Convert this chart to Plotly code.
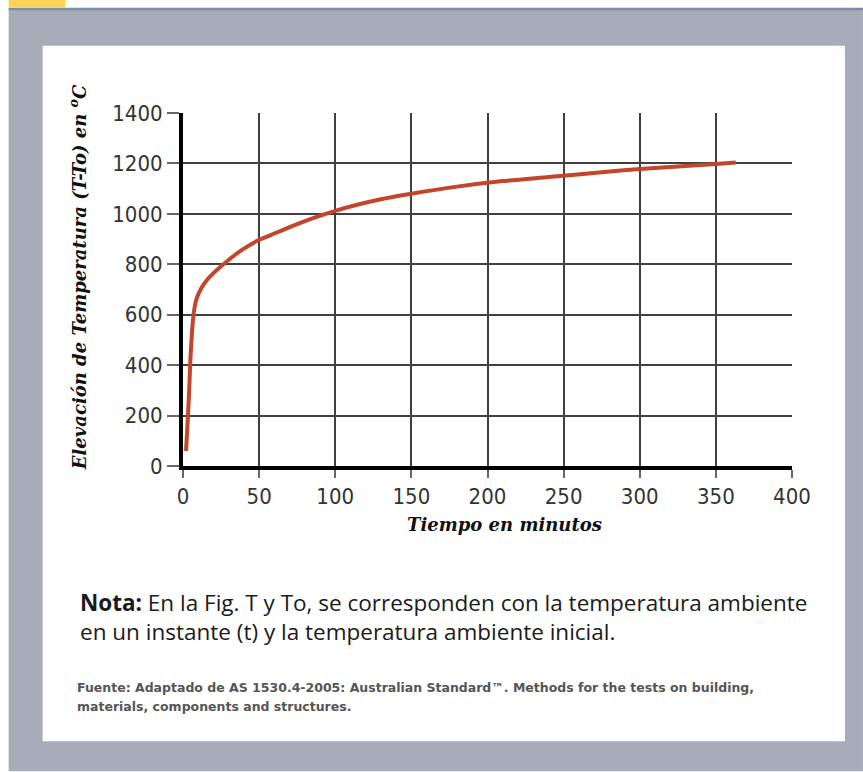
import plotly.graph_objects as go

# Data
tiempo_min = [2, 3, 4, 5, 7, 9, 12, 16, 20, 25, 33, 40, 50, 60, 70, 85, 100,
              115, 130, 150, 180, 210, 240, 275, 300, 330, 350, 363]
elevacion_c = [60, 170, 290, 440, 605, 665, 705, 740, 765, 792, 832, 862, 897,
               922, 947, 982, 1012, 1037, 1058, 1080, 1108, 1130, 1146, 1165,
               1178, 1190, 1198, 1204]
x_ticks = [0, 50, 100, 150, 200, 250, 300, 350, 400]
y_ticks = [0, 200, 400, 600, 800, 1000, 1200, 1400]

W, H = 863, 772
X0, X1 = 182.5, 792.0   # plot area pixel edges
Y0, Y1 = 466.5, 113.3


def px(x):
    return (x - X0) / (X1 - X0)


def py(y):
    return (Y0 - y) / (Y0 - Y1)


fig = go.Figure()
fig.add_trace(go.Scatter(
    x=tiempo_min, y=elevacion_c, mode="lines",
    line=dict(color="#c4442c", width=4, shape="spline", smoothing=0.6),
    hoverinfo="skip", showlegend=False,
))

shapes = []


def rect(x0, y0, x1, y1, color):
    shapes.append(dict(type="rect", xref="paper", yref="paper",
                       x0=px(x0), x1=px(x1), y0=py(y0), y1=py(y1),
                       fillcolor=color, line=dict(width=0), layer="below"))


rect(8, 10, W, H, "#a6adb8")
rect(8, 8, W, 10.5, "#7b8c9e")
rect(8, 0, 65, 8, "#fdd35c")
rect(42, 46, 845, 742, "#ffffff")

annotations = [
    dict(text="<i><b>Tiempo en minutos</b></i>", x=px(504), y=py(525),
         xref="paper", yref="paper", showarrow=False, xanchor="center", yanchor="middle",
         font=dict(family="DejaVu Serif", size=18, color="#111111")),
    dict(text="<i><b>Elevación de Temperatura (T-To) en <sup>o</sup>C</b></i>",
         x=px(77), y=py(278), xref="paper", yref="paper", showarrow=False,
         textangle=-90, xanchor="center", yanchor="middle",
         font=dict(family="DejaVu Serif", size=18, color="#111111")),
    dict(text="<b>Nota:</b> En la Fig. T y To, se corresponden con la temperatura ambiente",
         x=px(77), y=py(603), xref="paper", yref="paper", showarrow=False,
         xanchor="left", yanchor="middle",
         font=dict(family="Open Sans", size=22.5, color="#1a1a1a")),
    dict(text="en un instante (t) y la temperatura ambiente inicial.",
         x=px(77), y=py(632), xref="paper", yref="paper", showarrow=False,
         xanchor="left", yanchor="middle",
         font=dict(family="Open Sans", size=22.5, color="#1a1a1a")),
    dict(text="<b>Fuente: Adaptado de AS 1530.4-2005: Australian Standard™. Methods for the tests on building,</b>",
         x=px(74), y=py(688), xref="paper", yref="paper", showarrow=False,
         xanchor="left", yanchor="middle",
         font=dict(family="DejaVu Sans", size=12.5, color="#555555")),
    dict(text="<b>materials, components and structures.</b>",
         x=px(74), y=py(707), xref="paper", yref="paper", showarrow=False,
         xanchor="left", yanchor="middle",
         font=dict(family="DejaVu Sans", size=12.5, color="#555555")),
]

tickfont = dict(family="DejaVu Sans Condensed, Liberation Sans Narrow, Liberation Sans",
                size=22, color="#333333")

fig.update_layout(
    width=W, height=H,
    margin=dict(l=X0, r=W - X1, t=Y1, b=H - Y0, pad=0),
    paper_bgcolor="#ffffff", plot_bgcolor="rgba(0,0,0,0)",
    shapes=shapes, annotations=annotations,
    xaxis=dict(range=[0, 400], tickvals=x_ticks, ticktext=[str(v) for v in x_ticks],
               showgrid=True, gridcolor="#404040", gridwidth=2,
               showline=True, linecolor="#000000", linewidth=4,
               zeroline=False, ticks="outside", ticklen=8, tickwidth=2, tickcolor="#666666",
               tickfont=tickfont, fixedrange=True),
    yaxis=dict(range=[0, 1400], tickvals=y_ticks, ticktext=[str(v) for v in y_ticks],
               showgrid=True, gridcolor="#404040", gridwidth=2,
               showline=True, linecolor="#000000", linewidth=4,
               zeroline=False, ticks="outside", ticklen=12, tickwidth=2, tickcolor="#666666",
               tickfont=tickfont, fixedrange=True),
)

fig.write_html("out.html", config={"displayModeBar": False},
               post_script="document.body.style.margin='0px';document.body.style.padding='0px';")
